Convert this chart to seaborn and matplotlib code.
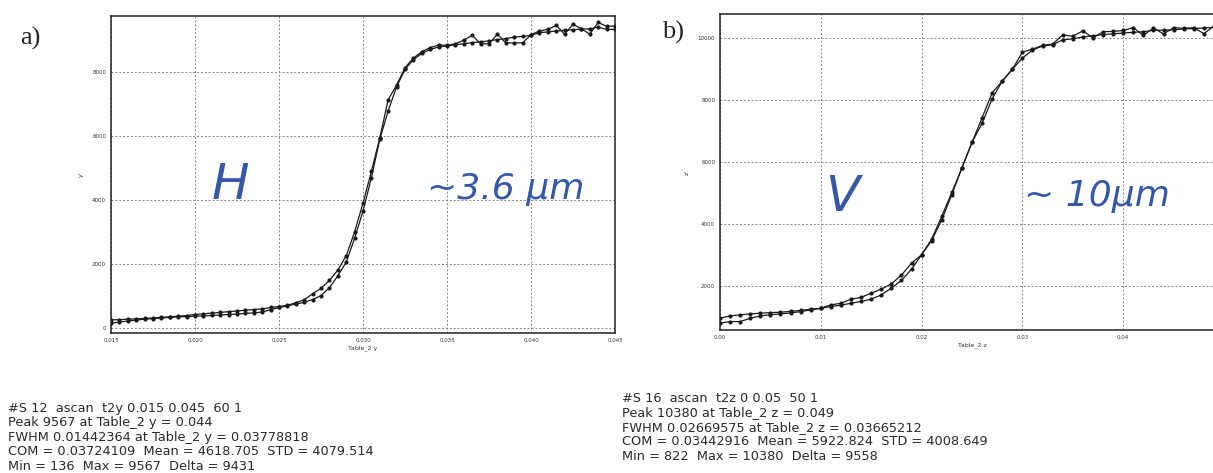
import numpy as np
import pandas as pd
import matplotlib
matplotlib.use("Agg")
import matplotlib.pyplot as plt
import seaborn as sns

# ---------------- data ----------------
xa = [round(0.015 + 0.0005 * i, 4) for i in range(61)]
a_scan1 = [240, 250, 262, 272, 285, 300, 318, 338, 358, 378, 410, 430, 455, 475, 500, 520, 545, 565, 585,
           630, 660, 700, 780, 870, 1060, 1230, 1480, 1800, 2250, 3000, 3900, 4900, 5950, 7150, 7600, 8150,
           8450, 8650, 8780, 8860,
           8850, 8900, 9010, 9165, 8900, 8900, 9200, 8925, 8925, 8930, 9185, 9300, 9350, 9475, 9200, 9510,
           9370, 9200, 9567, 9445, 9460]
a_scan2 = [136, 175, 205, 235, 262, 282, 300, 318, 338, 345, 355, 365, 380, 395, 410, 425, 445, 460, 490,
           560, 630, 680, 740, 790, 880, 1000, 1250, 1620, 2050, 2800, 3650, 4700, 5900, 6800, 7550, 8100,
           8400, 8600, 8720, 8800,
           8830, 8870, 8900, 8935, 8960, 8990, 9030, 9060, 9110, 9130, 9165, 9250, 9270, 9300, 9320, 9340,
           9360, 9370, 9420, 9350, 9350]

xb = [round(0.001 * i, 3) for i in range(51)]
b_scan1 = [979, 1054, 1086, 1118, 1140, 1160, 1172, 1200, 1230, 1270, 1300, 1408, 1460, 1592, 1650, 1785,
           1914, 2086, 2365, 2752, 3020,
           3525, 4260, 5030, 5816, 6640, 7430, 8235, 8610, 8990,
           9540, 9640, 9760, 9800, 10100, 10050, 10230, 10000, 10200, 10210, 10240, 10330, 10080, 10320,
           10130, 10330, 10310, 10330, 10140, 10380, 10300]
b_scan2 = [822, 871, 871, 979, 1054, 1090, 1118, 1150, 1190, 1250, 1300, 1355, 1400, 1462, 1520, 1592,
           1731, 1946, 2194, 2560, 3020,
           3480, 4150, 4960, 5816, 6640, 7250, 8040, 8610, 8990,
           9350, 9610, 9740, 9780, 9940, 9970, 10030, 10070, 10110, 10130, 10160, 10180, 10200, 10250,
           10250, 10260, 10290, 10300, 10320, 10340, 10360]

a_xticks = [0.015, 0.020, 0.025, 0.030, 0.035, 0.040, 0.045]
a_xticklabels = ["0.015", "0.020", "0.025", "0.030", "0.035", "0.040", "0.045"]
a_yticks = [0, 2000, 4000, 6000, 8000]
b_xticks = [0.00, 0.01, 0.02, 0.03, 0.04]
b_xticklabels = ["0.00", "0.01", "0.02", "0.03", "0.04"]
b_yticks = [2000, 4000, 6000, 8000, 10000]

a_info = ["#S 12  ascan  t2y 0.015 0.045  60 1",
          "Peak 9567 at Table_2 y = 0.044",
          "FWHM 0.01442364 at Table_2 y = 0.03778818",
          "COM = 0.03724109  Mean = 4618.705  STD = 4079.514",
          "Min = 136  Max = 9567  Delta = 9431"]
b_info = ["#S 16  ascan  t2z 0 0.05  50 1",
          "Peak 10380 at Table_2 z = 0.049",
          "FWHM 0.02669575 at Table_2 z = 0.03665212",
          "COM = 0.03442916  Mean = 5922.824  STD = 4008.649",
          "Min = 822  Max = 10380  Delta = 9558"]

# ---------------- figure ----------------
sns.set_theme(style="white")
plt.rcParams['font.family'] = ['DejaVu Sans']
W, H = 1213, 473
fig = plt.figure(figsize=(W / 100, H / 100), dpi=100)
fig.patch.set_facecolor("white")


def px_axes(left, top, right, bottom):
    return fig.add_axes([left / W, 1 - bottom / H, (right - left) / W, (bottom - top) / H])


def make_panel(ax, x, s1, s2, xlim, ylim, xticks, xticklabels, yticks, xlabel, ylabel):
    df = pd.DataFrame({
        "x": list(x) + list(x),
        "counts": list(s1) + list(s2),
        "scan": ["1"] * len(x) + ["2"] * len(x),
    })
    sns.lineplot(data=df, x="x", y="counts", hue="scan", palette=["#1a1a1a", "#1a1a1a"],
                 marker="o", markersize=3, linewidth=0.9, markeredgewidth=0,
                 legend=False, ax=ax, sort=False)
    ax.set_xlim(*xlim)
    ax.set_ylim(*ylim)
    ax.set_xticks(xticks)
    ax.set_xticklabels(xticklabels)
    ax.set_yticks(yticks)
    ax.set_yticklabels([str(t) for t in yticks])
    ax.tick_params(labelsize=4, length=2, width=0.6, pad=1.5, colors="#333333")
    ax.grid(True, linestyle=(0, (2, 2)), color="#888888", linewidth=0.7)
    for sp in ax.spines.values():
        sp.set_color("#222222")
        sp.set_linewidth(1.1)
    ax.set_xlabel(xlabel, fontsize=4.5, labelpad=2, color="#333333")
    ax.set_ylabel(ylabel, fontsize=4.5, labelpad=6, color="#333333")


ax_a = px_axes(111, 16, 615, 333)
make_panel(ax_a, xa, a_scan1, a_scan2, (0.015, 0.045), (-170, 9770),
           a_xticks, a_xticklabels, a_yticks, "Table_2 y", "y'")

ax_b = px_axes(720, 14, 1224, 330)
make_panel(ax_b, xb, b_scan1, b_scan2, (0.0, 0.05), (600, 10770),
           b_xticks, b_xticklabels, b_yticks, "Table_2 z", "z'")

# panel letters
fig.text(20 / W, 1 - 38 / H, "a)", fontsize=19, family="Liberation Serif", va="center", ha="left")
fig.text(662 / W, 1 - 32 / H, "b)", fontsize=19, family="Liberation Serif", va="center", ha="left")

# handwritten-like annotations
blue = "#3558a8"
ax_a.text(0.0221, 4470, "H", fontsize=36, color=blue, style="italic", ha="center", va="center")
ax_a.text(0.0385, 4350, "~3.6 µm", fontsize=26, color=blue, style="italic", ha="center", va="center")
ax_b.text(0.0121, 4880, "V", fontsize=36, color=blue, style="italic", ha="center", va="center")
ax_b.text(0.0374, 4900, "~ 10µm", fontsize=26, color=blue, style="italic", ha="center", va="center")

# info blocks
for i, line in enumerate(a_info):
    fig.text(8 / W, 1 - (408 + 14.6 * i) / H, line, fontsize=9.3, color="#2a2a2a", va="center", ha="left")
for i, line in enumerate(b_info):
    fig.text(622 / W, 1 - (398 + 14.6 * i) / H, line, fontsize=9.3, color="#2a2a2a", va="center", ha="left")

fig.savefig("out.png", dpi=100, facecolor="white")
